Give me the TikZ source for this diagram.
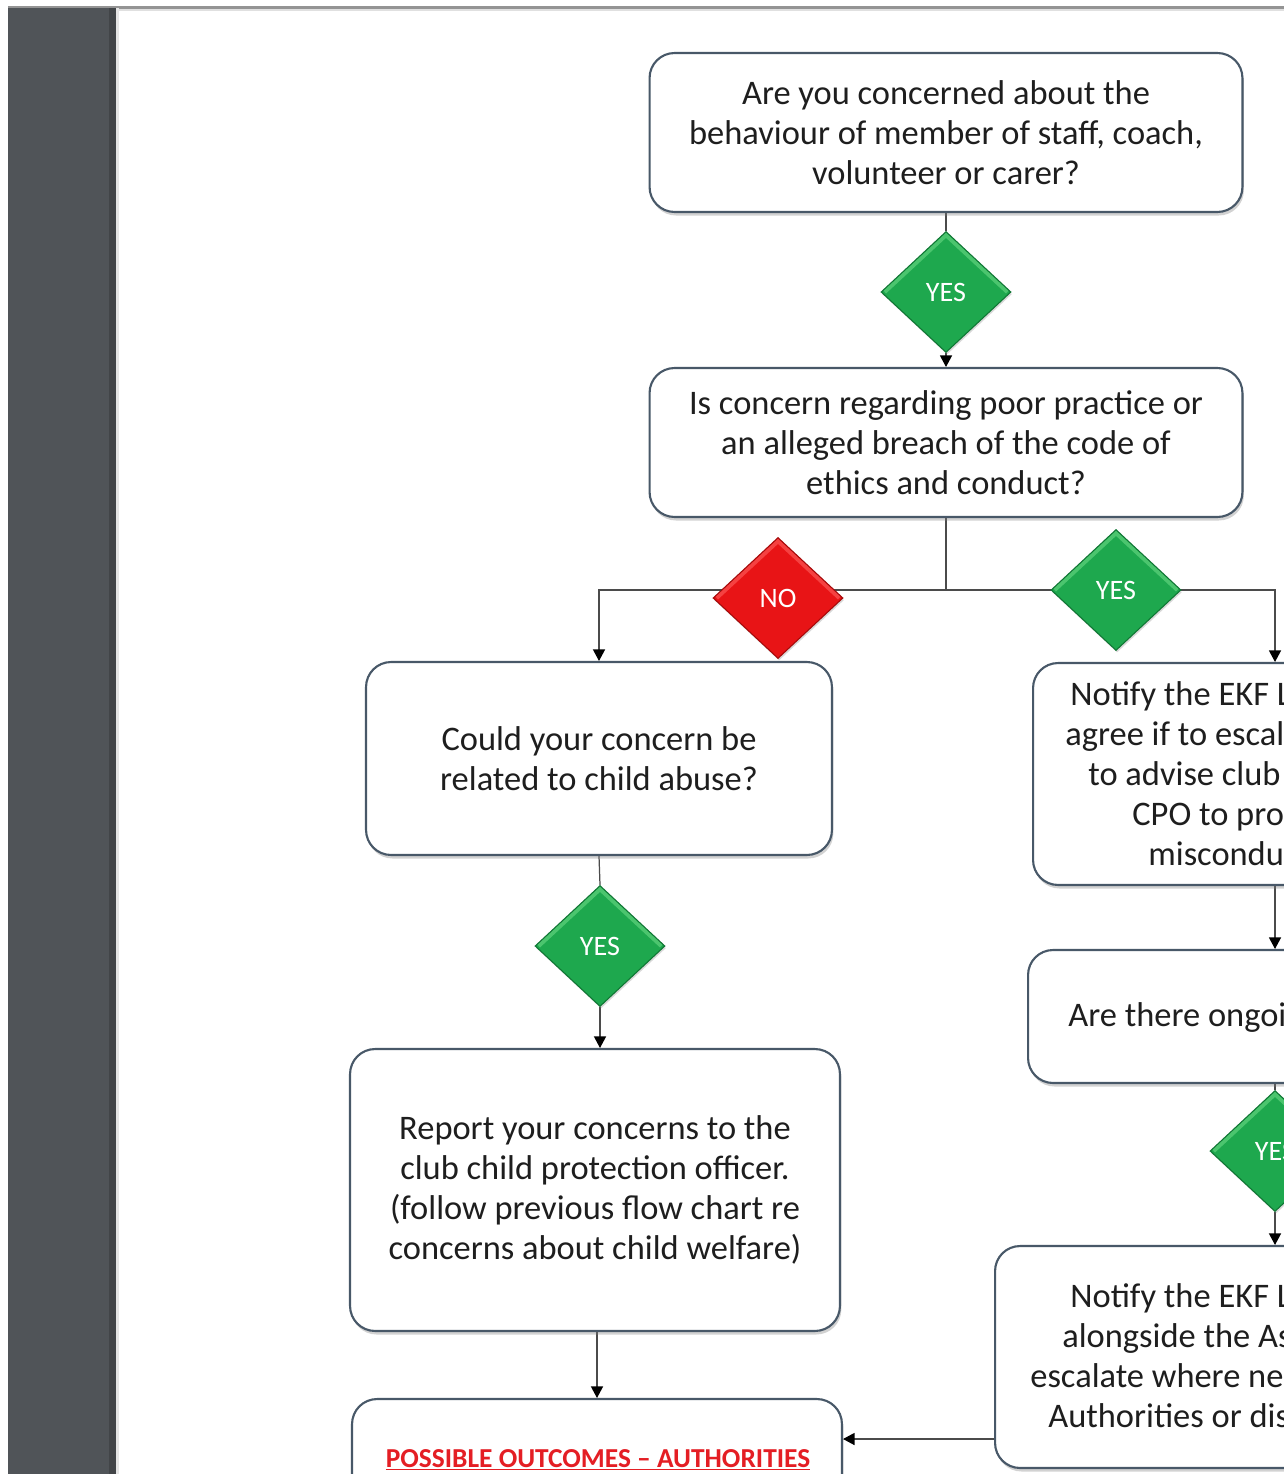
\documentclass[tikz,border=0pt]{standalone}
\usepackage{fontspec}
\setmainfont{Carlito}
\usetikzlibrary{shapes.geometric,arrows.meta,shadows,calc}
\definecolor{boxline}{RGB}{72,88,104}
\definecolor{txt}{RGB}{30,30,30}
\definecolor{ygreen}{RGB}{30,168,78}
\definecolor{ygreenl}{RGB}{95,210,125}
\definecolor{ygreend}{RGB}{16,118,52}
\definecolor{nred}{RGB}{232,20,22}
\definecolor{nredl}{RGB}{255,95,95}
\definecolor{nredd}{RGB}{165,10,10}
\definecolor{conn}{RGB}{75,75,75}
\definecolor{barc}{RGB}{80,84,88}
\definecolor{bard}{RGB}{66,69,72}
\definecolor{ttl}{RGB}{228,30,36}
\pgfdeclarelayer{bg}\pgfdeclarelayer{lines}\pgfsetlayers{bg,lines,main}
\tikzset{
  qbox/.style={draw=boxline, line width=1.2pt, rounded corners=0.5cm, fill=white,
    align=center, text=txt, font=\fontsize{19.6}{22.8}\selectfont, inner sep=0pt,
    drop shadow={shadow xshift=0.8pt, shadow yshift=-2pt, opacity=0.35}},
  rtxt/.style={anchor=base west, inner sep=0pt, text=txt, font=\fontsize{19.6}{22.8}\selectfont},
  dia/.style={diamond, inner sep=0pt, minimum width=2.6cm, minimum height=2.42cm,
    text=white, font=\fontsize{16}{19}\selectfont, line width=0.6pt,
    drop shadow={shadow xshift=0.6pt, shadow yshift=-1.2pt, opacity=0.3}},
  ydia/.style={dia, fill=ygreen, draw=ygreend,
    path picture={\draw[ygreenl, line width=2.2pt, opacity=0.7]
      ([xshift=2pt]path picture bounding box.west) -- ([yshift=-2pt]path picture bounding box.north)
      -- ([xshift=-2pt]path picture bounding box.east);}},
  ndia/.style={dia, fill=nred, draw=nredd,
    path picture={\draw[nredl, line width=2.2pt, opacity=0.6]
      ([xshift=2pt]path picture bounding box.west) -- ([yshift=-2pt]path picture bounding box.north)
      -- ([xshift=-2pt]path picture bounding box.east);}},
  conn/.style={draw=conn, line width=0.7pt},
  arr/.style={conn, -{Triangle[length=2.3mm, width=2.4mm, color=black]}},
  ttlstyle/.style={inner sep=0pt, text=ttl, font=\bfseries\fontsize{15.6}{19}\selectfont}
}
\begin{document}
\begin{tikzpicture}[x=0.02cm, y=-0.02cm]
\useasboundingbox (0,0) rectangle (1284,1474);
\begin{pgfonlayer}{bg}
  \fill[white] (0,0) rectangle (1284,1474);
  \fill[black!42] (8,6) rectangle (1284,8.5);
  \fill[black!12] (116,8.5) rectangle (1284,10.5);
  \fill[barc] (8,8) rectangle (116,1474);
  \fill[bard] (109,8) rectangle (116,1474);
  \fill[black!10] (116,8) rectangle (119,1474);
\end{pgfonlayer}
\clip (0,0) rectangle (1284,1474);

% left and centre column
\node[qbox, minimum width=11.86cm, minimum height=3.18cm] (b1) at (946,132.5)
  {Are you concerned about the\\behaviour of member of staff, coach,\\volunteer or carer?};
\node[ydia] (d1) at (946,292) {YES};
\node[qbox, minimum width=11.86cm, minimum height=2.98cm] (b2) at (946,442.5)
  {Is concern regarding poor practice or\\an alleged breach of the code of\\ethics and conduct?};
\coordinate (j1) at (946,590);
\node[ndia] (dn) at (778,598) {NO};
\node[ydia] (d2) at (1116,590) {YES};
\node[qbox, minimum width=9.32cm, minimum height=3.86cm] (b3) at (599,758.5)
  {Could your concern be\\related to child abuse?};
\node[ydia] (d3) at (600,946) {YES};
\node[qbox, minimum width=9.8cm, minimum height=5.64cm] (b5) at (595,1190)
  {Report your concerns to the\\club child protection officer.\\(follow previous flow chart re\\concerns about child welfare)};
\node[qbox, minimum width=9.8cm, minimum height=6.4cm] (b6) at (597,1559) {};
\node[ttlstyle] (t6) at (598,1460) {\underline{POSSIBLE OUTCOMES – AUTHORITIES}};

% right column (cut by the page edge)
\node[qbox, minimum width=9.68cm, minimum height=4.44cm] (b4) at (1275,774) {};
\node[rtxt] (b4a) at (1070,705) {Notify the EKF L};
\node[rtxt] (b4b) at (1065,745) {agree if to escal};
\node[rtxt] (b4c) at (1088,785) {to advise club};
\node[rtxt] (b4d) at (1132,825) {CPO to pro};
\node[rtxt] (b4e) at (1148,865) {miscondu};
\node[qbox, minimum width=9.88cm, minimum height=2.66cm] (b7) at (1275,1016.5) {};
\node[rtxt] (b7a) at (1068,1026) {Are there ongoi};
\node[ydia] (d4) at (1275,1151) {YES};
\node[qbox, minimum width=11.2cm, minimum height=4.44cm] (b8) at (1275,1357) {};
\node[rtxt] (b8a) at (1070,1307) {Notify the EKF L};
\node[rtxt] (b8b) at (1062,1347) {alongside the As};
\node[rtxt] (b8c) at (1030,1387) {escalate where ne};
\node[rtxt] (b8d) at (1048,1427) {Authorities or dis};
\coordinate (c8) at ($(b8.west)+(0,82)$);

\begin{pgfonlayer}{lines}
  \draw[conn] (b1.south) -- (d1.north);
  \draw[arr] (d1.south) -- (b2.north);
  \draw[conn] (b2.south) -- (j1);
  \draw[arr] (j1) -| (b3.north);
  \draw[arr] (j1) -| (b4.north);
  \draw[conn] (b3.south) -- (d3.north);
  \draw[arr] (d3.south) -- (d3.south |- b5.north);
  \draw[arr] (b6.north |- b5.south) -- (b6.north);
  \draw[arr] (b4.south) -- (b7.north);
  \draw[conn] (b7.south) -- (d4.north);
  \draw[arr] (d4.south) -- (b8.north);
  \draw[arr] (c8) -- (c8 -| b6.east);
\end{pgfonlayer}
\end{tikzpicture}
\end{document}
